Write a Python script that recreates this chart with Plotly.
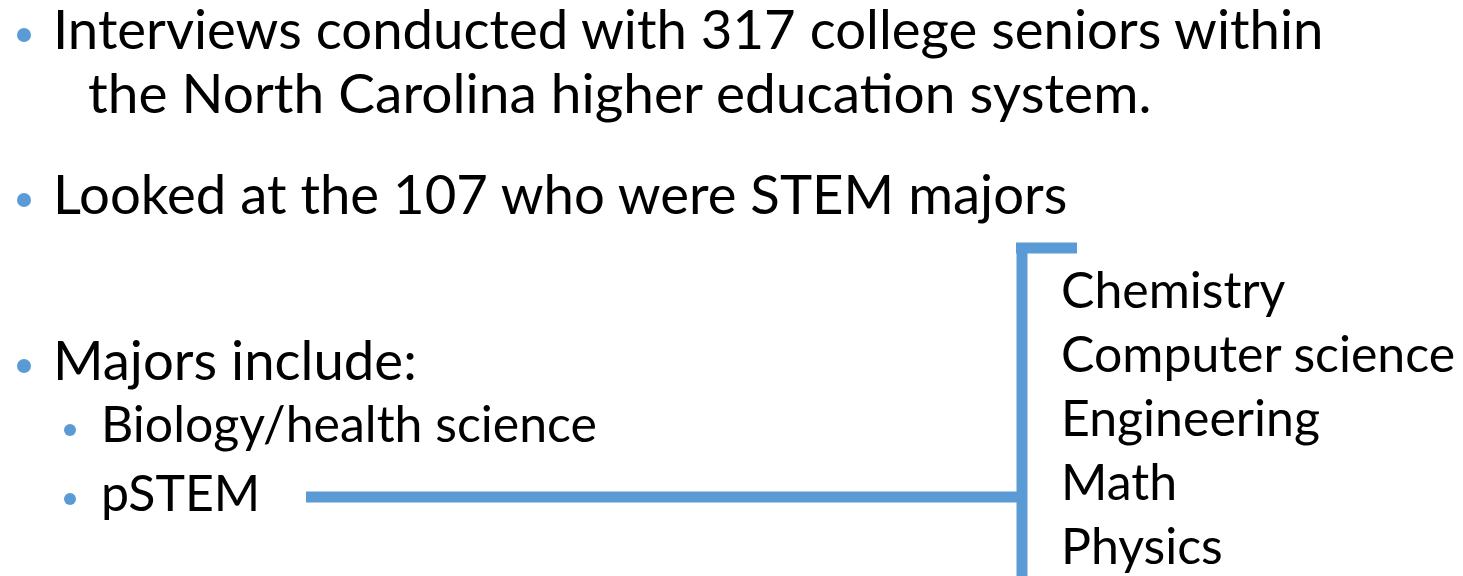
import plotly.graph_objects as go

# texto do slide
pontos_principais = [
    "Interviews conducted with 317 college seniors within",
    "Looked at the 107 who were STEM majors",
    "Majors include:",
]
continuacao = "the North Carolina higher education system."
sub_pontos = ["Biology/health science", "pSTEM"]
majors_pstem = ["Chemistry", "Computer science", "Engineering", "Math", "Physics"]

AZUL = '#5B9BD5'
FONTE = 'Lato'
W, H = 1463, 576
OFF = 8  # margem do body da página
DY = -5  # ajuste vertical do texto em relação aos bullets

# posições (em pixels da tela)
y_principais = [33, 198, 364]
y_continuacao = 97
y_sub = [428, 497]
y_lista0, passo_lista = 294, 64

fig = go.Figure()

anot = []
shapes = []


def bullet(x, y, r):
    shapes.append(dict(type='circle', xref='x', yref='y',
                       x0=x - r, x1=x + r, y0=y - r + 2, y1=y + r + 2,
                       fillcolor=AZUL, line=dict(width=0)))


for texto, y in zip(pontos_principais, y_principais):
    bullet(24, y, 7)
    anot.append(dict(x=51, y=y + DY, text=texto, xanchor='left', yanchor='middle',
                     font=dict(size=54.5, color='black', family=FONTE)))

anot.append(dict(x=86, y=y_continuacao + DY, text=continuacao, xanchor='left',
                 yanchor='middle', font=dict(size=55, color='black', family=FONTE)))

for texto, y in zip(sub_pontos, y_sub):
    bullet(70, y, 6)
    anot.append(dict(x=99, y=y + DY, text=texto, xanchor='left', yanchor='middle',
                     font=dict(size=50, color='black', family=FONTE)))

for i, texto in enumerate(majors_pstem):
    anot.append(dict(x=1059, y=y_lista0 + i * passo_lista + DY, text=texto,
                     xanchor='left', yanchor='middle',
                     font=dict(size=50, color='black', family=FONTE)))

# colchete ligando pSTEM à lista
linha = dict(color=AZUL, width=11)
shapes.append(dict(type='line', xref='x', yref='y', x0=306, x1=1022,
                   y0=y_sub[1], y1=y_sub[1], line=linha))
shapes.append(dict(type='line', xref='x', yref='y', x0=1022, x1=1022,
                   y0=243, y1=H + 20, line=linha))
shapes.append(dict(type='line', xref='x', yref='y', x0=1016, x1=1077,
                   y0=248, y1=248, line=linha))

for a in anot:
    a.update(xref='x', yref='y', showarrow=False)

fig.update_layout(
    width=W, height=H,
    margin=dict(l=0, r=0, t=0, b=0),
    paper_bgcolor='white', plot_bgcolor='white',
    xaxis=dict(range=[OFF, W + OFF], visible=False, fixedrange=True),
    yaxis=dict(range=[H + OFF, OFF], visible=False, fixedrange=True),
    annotations=anot,
    shapes=shapes,
    showlegend=False,
)

fig.write_html("out.html", config={'displayModeBar': False})
